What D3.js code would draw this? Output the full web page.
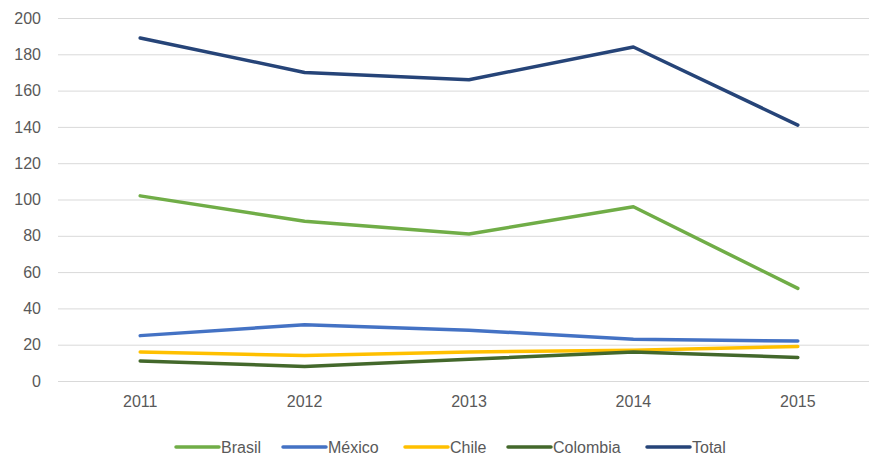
<!DOCTYPE html>
<html>
<head>
<meta charset="utf-8">
<script src="https://cdn.jsdelivr.net/npm/d3@7"></script>
<style>
  body { margin: 0; background: #fff; }
  svg { display: block; font-family: "Liberation Sans", "DejaVu Sans", sans-serif; }
</style>
</head>
<body>
<svg id="chart" width="869" height="456"></svg>
<script>
// --- Data ---

const years = ["2011", "2012", "2013", "2014", "2015"];
const brasil = [102, 88, 81, 96, 51];
const mexico = [25, 31, 28, 23, 22];
const chile = [16, 14, 16, 17, 19];
const colombia = [11, 8, 12, 16, 13];
const total = [189, 170, 166, 184, 141];
const yTicks = [0, 20, 40, 60, 80, 100, 120, 140, 160, 180, 200];

const series = [
  { name: "Brasil", values: brasil, color: "#70AD47" },
  { name: "México", values: mexico, color: "#4472C4" },
  { name: "Chile", values: chile, color: "#FFC000" },
  { name: "Colombia", values: colombia, color: "#43682B" },
  { name: "Total", values: total, color: "#264478" },
];

// --- Layout ---

const svg = d3.select("#chart");
const plotLeft = 58, plotRight = 880, plotTop = 18, plotBottom = 381;

const x = d3.scaleBand().domain(years).range([plotLeft, plotRight]);
const y = d3.scaleLinear().domain([0, 200]).range([plotBottom, plotTop]);

// Gridlines + y labels
const yAxis = svg.append("g")
  .attr("transform", `translate(${plotLeft},0)`)
  .call(d3.axisLeft(y).tickValues(yTicks).tickSize(-(plotRight - plotLeft)).tickPadding(17));
yAxis.select(".domain").remove();
yAxis.selectAll(".tick line").attr("stroke", "#d9d9d9").attr("stroke-width", 1);
yAxis.selectAll(".tick text")
  .attr("fill", "#595959")
  .attr("font-size", 16)
  .attr("font-family", "Liberation Sans, sans-serif");

// X labels
const xAxis = svg.append("g")
  .attr("transform", `translate(0,${plotBottom})`)
  .call(d3.axisBottom(x).tickSize(0).tickPadding(15));
xAxis.select(".domain").remove();
xAxis.selectAll(".tick text")
  .attr("fill", "#595959")
  .attr("font-size", 16)
  .attr("font-family", "Liberation Sans, sans-serif");

// Lines
const line = d3.line()
  .x((d, i) => x(years[i]) + x.bandwidth() / 2)
  .y((d) => y(d));

svg.append("g")
  .selectAll("path")
  .data(series)
  .join("path")
  .attr("d", (s) => line(s.values))
  .attr("fill", "none")
  .attr("stroke", (s) => s.color)
  .attr("stroke-width", 3.5)
  .attr("stroke-linecap", "round")
  .attr("stroke-linejoin", "round");

// --- Legend ---

const legendX = [176, 283, 405, 508, 647];
const legend = svg.append("g")
  .selectAll("g")
  .data(series)
  .join("g")
  .attr("transform", (s, i) => `translate(${legendX[i]},447)`);

legend.append("line")
  .attr("x1", 0).attr("x2", 43)
  .attr("stroke", (s) => s.color)
  .attr("stroke-width", 3.5)
  .attr("stroke-linecap", "round");

legend.append("text")
  .attr("x", 45)
  .attr("dy", "0.35em")
  .attr("fill", "#595959")
  .attr("font-size", 16)
  .text((s) => s.name);
</script>
</body>
</html>
